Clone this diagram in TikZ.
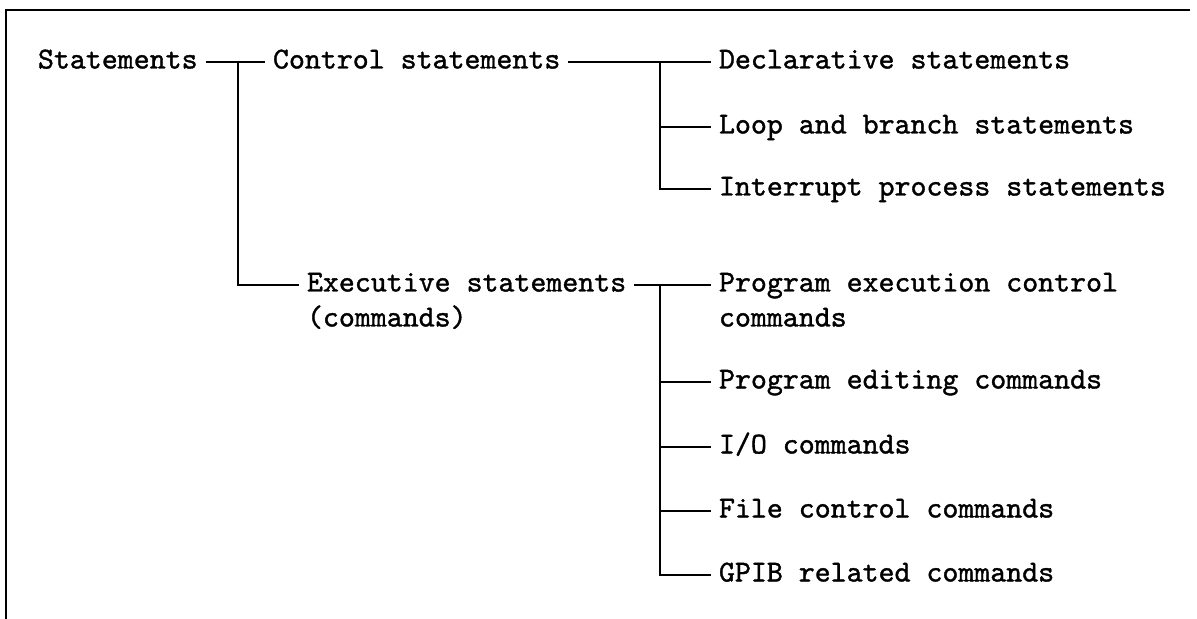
\documentclass[tikz,border=0pt]{standalone}
\usepackage{fontspec}
\newfontfamily\itemfont[FakeBold=1.2]{lmmono10-regular.otf}
\begin{document}
\begin{tikzpicture}[x=0.5pt,y=-0.5pt,inner sep=0pt,line width=1pt,
        item/.style={anchor=west,outer xsep=4pt,text height=6.5pt,text depth=0pt,
          font=\fontsize{15.2}{18}\itemfont}]
        \useasboundingbox (0,0) rectangle (1197,619);
        % frame
        \draw[line width=1.3pt] (6,619) -- (6,10) -- (1190,10);
        \node[item] (stmt) at (30,62) {Statements};
        \node[item] (ctrl) at (265,62) {Control statements};
        \node[item] (exec) at (299,285) {Executive statements};
        \node[item] (cmds) at (299,320) {(commands)};
        \node[item] (decl) at (711,62) {Declarative statements};
        \node[item] (loop) at (711,127) {Loop and branch statements};
        \node[item] (intr) at (711,189) {Interrupt process statements};
        \node[item] (prog) at (711,285) {Program execution control};
        \node[item] (progc) at (711,320) {commands};
        \node[item] (edit) at (711,382) {Program editing commands};
        \node[item] (io) at (711,447) {I/O commands};
        \node[item] (file) at (711,511) {File control commands};
        \node[item] (gpib) at (711,575) {GPIB related commands};
        \coordinate (j1) at (238,62);
        \coordinate (j2) at (660,62);
        \coordinate (j3) at (660,285);
        \draw (stmt.east) -- (ctrl.west);
        \draw (j1) |- (exec.west);
        \draw (ctrl.east) -- (decl.west);
        \draw (j2) |- (intr.west);
        \draw (j2 |- loop.west) -- (loop.west);
        \draw (exec.east) -- (prog.west);
        \draw (j3) |- (gpib.west);
        \foreach \n in {edit,io,file}
          \draw (j3 |- \n.west) -- (\n.west);
\end{tikzpicture}
\end{document}
